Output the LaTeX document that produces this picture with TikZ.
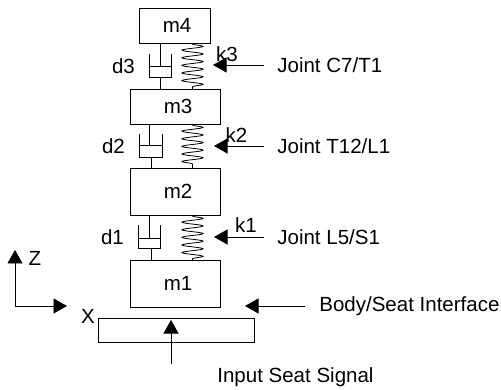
\documentclass[tikz,border=0pt]{standalone}
\usepackage{fontspec}
\setmainfont{Liberation Sans}
\usetikzlibrary{arrows.meta,decorations.pathmorphing}

\tikzset{
  mass/.style={draw,inner sep=0pt,minimum width=90pt},
  lbl/.style={inner sep=0pt,font=\fontsize{20.5}{22}\selectfont},
  sig/.style={-{Triangle[length=13.5pt,width=15pt]},line width=0.8pt},
  spring/.style={decorate,decoration={snake,segment length=7.6pt,amplitude=10.5pt,pre length=1pt,post length=1pt}}
}

\begin{document}
\begin{tikzpicture}[x=1pt,y=-1pt,line width=0.8pt]
  \useasboundingbox (0,0) rectangle (501,390);
  % masses, bottom to top, and the seat plate
  \node[mass,lbl,minimum height=47pt] (m1) at (175,283.5) {\hspace*{6pt}m1};
  \node[mass,lbl,minimum height=47pt] (m2) at (175,191.5) {\hspace*{6pt}m2};
  \node[mass,lbl,minimum height=35pt] (m3) at (175,106.5) {\hspace*{6pt}m3};
  \node[mass,lbl,minimum height=35pt,minimum width=71pt] (m4) at (174.5,25.5) {\hspace*{5pt}m4};
  \node[mass,minimum width=156pt,minimum height=24pt] (plate) at (176,330) {};
  % springs between the masses
  \draw[spring] (192.5,215) -- (192.5,260);
  \draw[spring] (192.5,124) -- (192.5,168);
  \draw[spring] (192.5,43) -- (192.5,89);
  % dampers: rod, piston, then cylinder and lower rod
  \draw (149,215) -- (149,238) (138,238) -- (160,238);
  \draw (138,225) -- (138,248) -- (160,248) -- (160,225) (151,248) -- (151,260);
  \draw (149,124) -- (149,145) (139,145) -- (162,145);
  \draw (139,134) -- (139,157) -- (162,157) -- (162,134) (151,157) -- (151,168);
  \draw (160,43) -- (160,66) (149,66) -- (171,66);
  \draw (149,54) -- (149,77) -- (171,77) -- (171,54) (160,77) -- (160,89);
  % damper and spring labels
  \node[lbl] (d1) at (112.5,237) {d1};
  \node[lbl] (d2) at (113.5,146) {d2};
  \node[lbl] (d3) at (123.5,66) {d3};
  \node[lbl] (k1) at (246,225) {k1};
  \node[lbl] (k2) at (236.5,135) {k2};
  \node[lbl] (k3) at (227,54) {k3};
  % joints
  \node[lbl,anchor=west] (jc7) at (277,65) {Joint C7/T1};
  \node[lbl,anchor=west] (jt12) at (277,146) {Joint T12/L1};
  \node[lbl,anchor=west] (jl5) at (277,237) {Joint L5/S1};
  \node[lbl,anchor=west] (seat) at (319,306) {Body/Seat Interface};
  \node[lbl,anchor=west] (input) at (217,377) {Input Seat Signal};
  \draw[sig,shorten <=13pt] (jc7.west) -- (213,65);
  \draw[sig,shorten <=13pt] (jt12.west) -- (214,146);
  \draw[sig,shorten <=13pt] (jl5.west) -- (214,237);
  \draw[sig,shorten <=14pt] (seat.west) -- (245,306);
  \coordinate (inputtail) at (171,364);
  \coordinate (inputtip) at (171,320);
  \draw[sig] (inputtail) -- (inputtip);
  % axes
  \coordinate (origin) at (15,306);
  \coordinate (ztip) at (15,250);
  \coordinate (xtip) at (67,306);
  \draw[sig] (origin) -- (ztip);
  \draw[sig] (origin) -- (xtip);
  \node[lbl] (zlabel) at (35,258.5) {Z};
  \node[lbl] (xlabel) at (88,316.5) {X};
\end{tikzpicture}
\end{document}
